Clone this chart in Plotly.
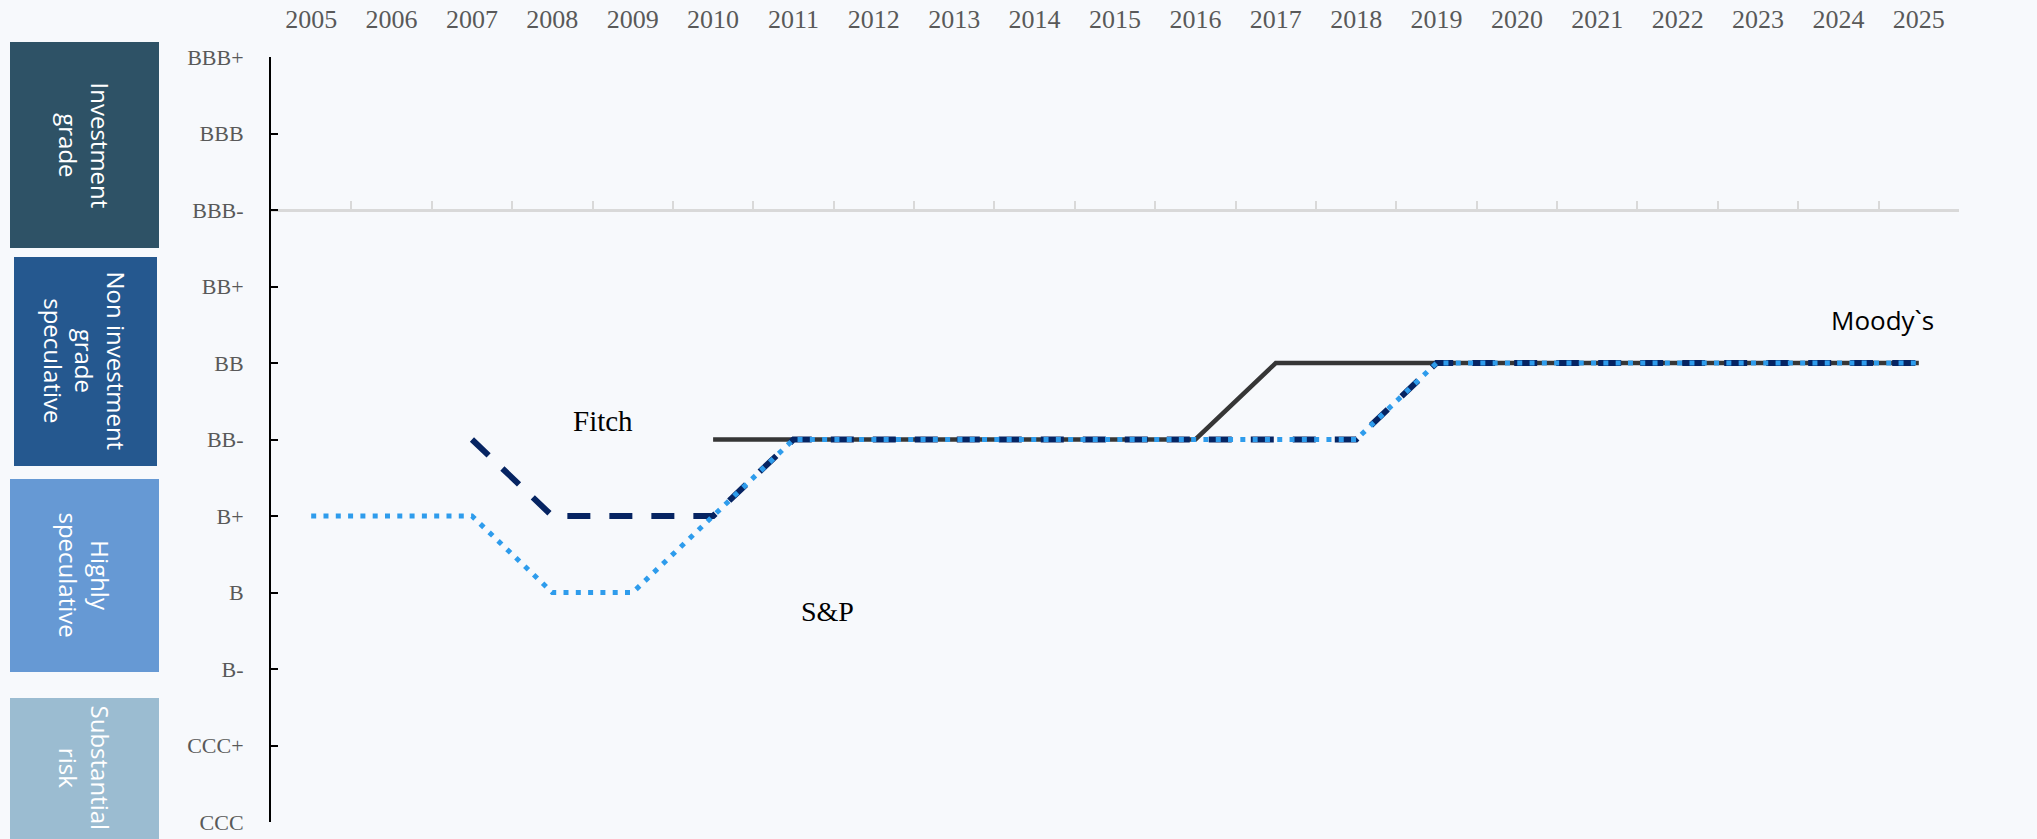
import plotly.graph_objects as go

years = [2005, 2006, 2007, 2008, 2009, 2010, 2011, 2012, 2013, 2014, 2015,
         2016, 2017, 2018, 2019, 2020, 2021, 2022, 2023, 2024, 2025]
ratings = ["CCC", "CCC+", "B-", "B", "B+", "BB-", "BB", "BB+", "BBB-", "BBB", "BBB+"]

sp = ["B+", "B+", "B+", "B", "B", "B+", "BB-", "BB-", "BB-", "BB-", "BB-",
      "BB-", "BB-", "BB-", "BB", "BB", "BB", "BB", "BB", "BB", "BB"]
fitch = [None, None, "BB-", "B+", "B+", "B+", "BB-", "BB-", "BB-", "BB-", "BB-",
         "BB-", "BB-", "BB-", "BB", "BB", "BB", "BB", "BB", "BB", "BB"]
moodys = [None, None, None, None, None, "BB-", "BB-", "BB-", "BB-", "BB-", "BB-",
          "BB-", "BB", "BB", "BB", "BB", "BB", "BB", "BB", "BB", "BB"]

bands = ["Investment<br>grade", "Non investment<br>grade<br>speculative",
         "Highly<br>speculative", "Substantial<br>risk"]
band_colors = ["#2E5266", "#25588F", "#6699D4", "#9BBCD1"]

W, H = 2037, 839
ML, MR, MT, MB = 271, 78, 57, 17
PW, PH = W - ML - MR, H - MT - MB


def px_x(p):
    return (p - ML) / PW


def px_y(q):
    return (H - MB - q) / PH


# band boxes in page pixels (x0, x1, y_top, y_bottom)
band_boxes = [(10, 159, 42, 248), (14, 157, 257, 466), (10, 159, 479, 672), (10, 159, 698, 860)]
band_text_y = [145, 361, 575, 768]

serif = "Liberation Serif"
sans = "Open Sans"

fig = go.Figure()
fig.add_trace(go.Scatter(x=years, y=moodys, mode="lines", name="Moody`s",
                         line=dict(color="#363636", width=4.5), showlegend=False))
fig.add_trace(go.Scatter(x=years, y=fitch, mode="lines", name="Fitch",
                         line=dict(color="#062462", width=6, dash="23px,19px"), showlegend=False))
fig.add_trace(go.Scatter(x=years, y=sp, mode="lines", name="S&P",
                         line=dict(color="#2E9CEC", width=5, dash="5px,7.3px"), showlegend=False))
fig.add_trace(go.Scatter(x=[years[0]], y=[ratings[0]], xaxis="x2", mode="markers",
                         marker=dict(opacity=0), hoverinfo="skip", showlegend=False))

shapes = []
annotations = []
for (x0, x1, yt, yb), col, txt, ty in zip(band_boxes, band_colors, bands, band_text_y):
    shapes.append(dict(type="rect", xref="paper", yref="paper",
                       x0=px_x(x0), x1=px_x(x1), y0=px_y(yb), y1=px_y(yt),
                       fillcolor=col, line=dict(width=0), layer="below"))
    annotations.append(dict(xref="paper", yref="paper", x=px_x((x0 + x1) / 2), y=px_y(ty),
                            text=txt, textangle=90, showarrow=False,
                            font=dict(family=sans, size=24, color="white"),
                            xanchor="center", yanchor="middle"))

annotations += [
    dict(x=2008.63, y=5.24, xref="x", yref="y", text="Fitch", showarrow=False,
         font=dict(family=serif, size=29, color="black")),
    dict(x=2011.42, y=2.75, xref="x", yref="y", text="S&P", showarrow=False,
         font=dict(family=serif, size=28, color="black")),
    dict(x=2024.55, y=6.56, xref="x", yref="y", text="Moody`s", showarrow=False,
         font=dict(family=sans, size=26, color="black")),
]

bounds = [y - 0.5 for y in years] + [years[-1] + 0.5]

fig.update_layout(
    width=W, height=H,
    margin=dict(l=ML, r=MR, t=MT, b=MB, autoexpand=False),
    paper_bgcolor="#F7F9FC", plot_bgcolor="rgba(0,0,0,0)",
    shapes=shapes, annotations=annotations,
    xaxis=dict(range=[years[0] - 0.5, years[-1] + 0.5], side="top",
               tickvals=years, ticktext=[str(y) for y in years],
               tickfont=dict(family=serif, size=26, color="#595959"),
               ticks="outside", ticklen=18, tickcolor="rgba(0,0,0,0)",
               showline=False, showgrid=False, zeroline=False, automargin=False),
    xaxis2=dict(range=[years[0] - 0.5, years[-1] + 0.5], overlaying="x", anchor="free",
                position=0.8, side="bottom", tickvals=bounds, ticks="inside",
                ticklen=8, tickwidth=2, tickcolor="#D9D9D9", showline=True,
                linecolor="#D9D9D9", linewidth=3, showticklabels=False,
                showgrid=False, zeroline=False, automargin=False),
    yaxis=dict(type="category", categoryorder="array", categoryarray=ratings,
               tickvals=ratings, range=[0, 10], showline=True, linecolor="black", linewidth=2,
               ticks="inside", ticklen=7, tickwidth=2, tickcolor="black",
               tickfont=dict(family=serif, size=22, color="#595959"),
               ticklabelstandoff=21, showgrid=False, zeroline=False, automargin=False),
)

fig.write_html("out.html", config={"displayModeBar": False},
               post_script="document.body.style.margin='0';document.body.style.overflow='hidden';")
